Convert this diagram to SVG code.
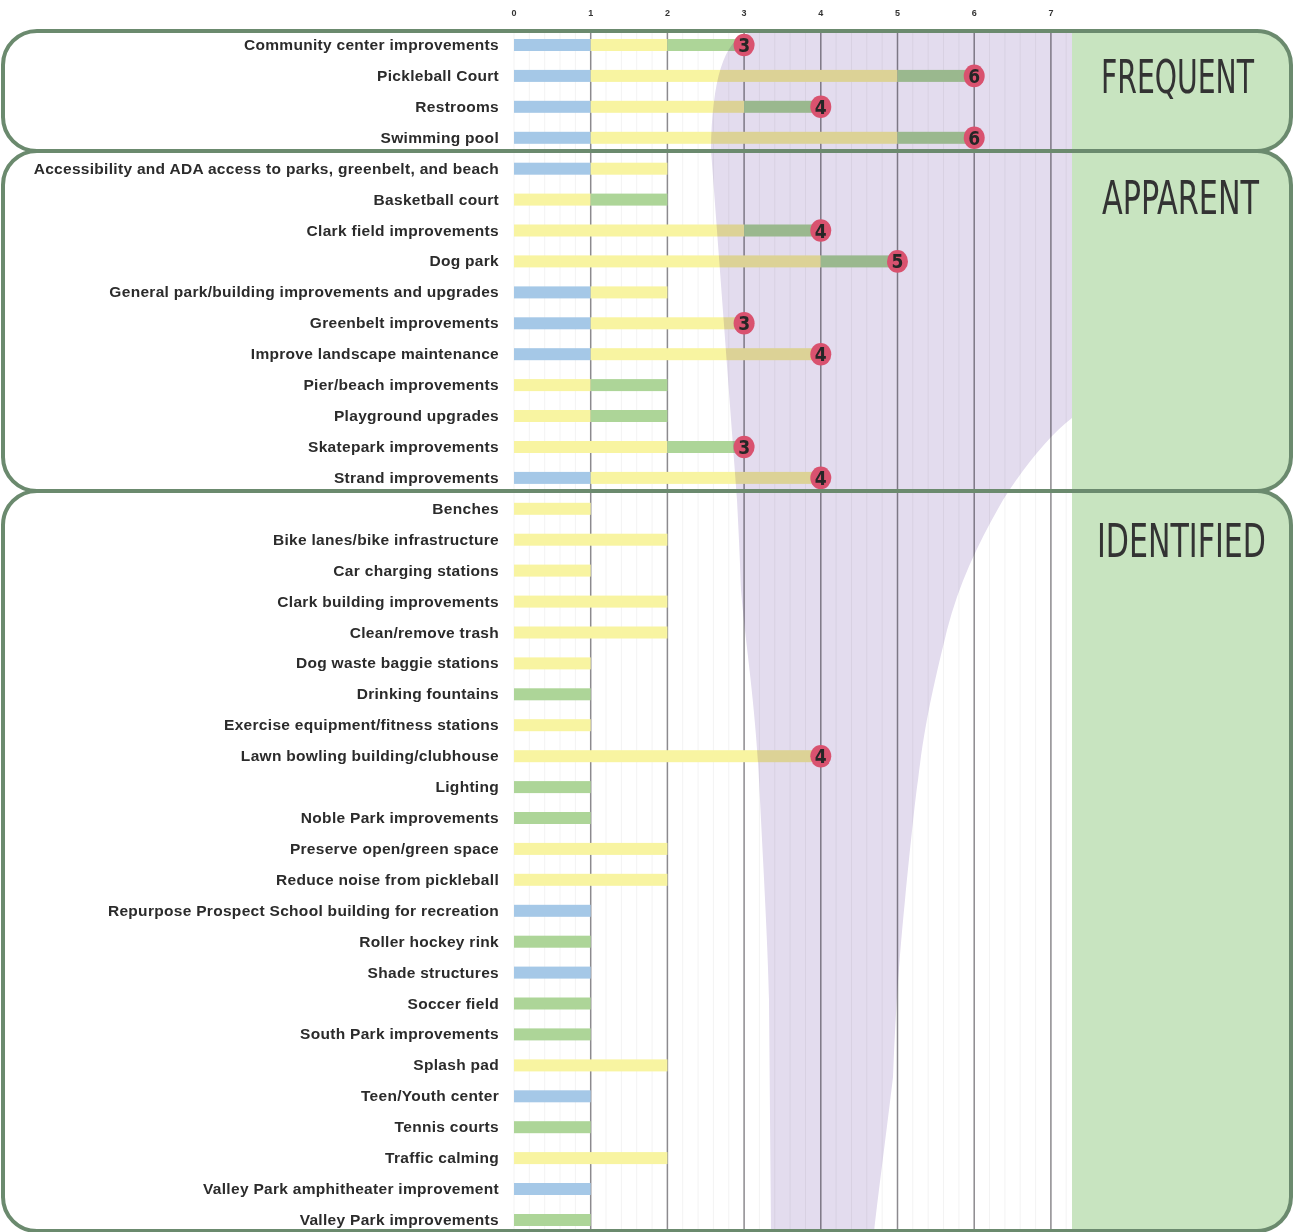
<svg xmlns="http://www.w3.org/2000/svg" width="1294" height="1232" viewBox="0 0 1294 1232">
<style>
.lbl{font-family:"Liberation Sans",Arial,sans-serif;font-weight:bold;font-size:15.5px;letter-spacing:0.3px;fill:#2b2b2b;text-anchor:end}
.tick{font-family:"Liberation Sans",Arial,sans-serif;font-weight:bold;font-size:9px;fill:#333;text-anchor:middle}
.cat{font-family:"DejaVu Sans Condensed","Liberation Sans Narrow","Liberation Sans",sans-serif;font-size:32px;fill:#333;text-anchor:middle}
.num{font-family:"Liberation Sans Narrow","DejaVu Sans Condensed","Liberation Sans",sans-serif;font-size:19px;font-weight:bold;fill:#262626;text-anchor:middle}
.b{fill:#a5c8e7}.y{fill:#f8f4a1}.g{fill:#add598}
.dot{fill:#d9526f}
.frame{fill:none;stroke:#6b8a6e;stroke-width:4}
.major{stroke:#8c8a8e;stroke-width:1.5}
.minor{stroke:#f3f3f3;stroke-width:1}
</style>
<defs>
<clipPath id="framesClip">
<rect x="3" y="31" width="1288" height="120" rx="34"/>
<rect x="3" y="151" width="1288" height="340" rx="34"/>
<rect x="3" y="491" width="1288" height="740" rx="34"/>
</clipPath>
</defs>
<rect width="1294" height="1232" fill="#fff"/>
<g id="green-panel"><rect x="1072" y="0" width="222" height="1232" fill="#c8e4c0" clip-path="url(#framesClip)"/></g>
<g id="grid">
<g class="minor">
<line x1="529.3" y1="33" x2="529.3" y2="1232"/><line x1="544.7" y1="33" x2="544.7" y2="1232"/><line x1="560" y1="33" x2="560" y2="1232"/><line x1="575.4" y1="33" x2="575.4" y2="1232"/>
<line x1="606" y1="33" x2="606" y2="1232"/><line x1="621.4" y1="33" x2="621.4" y2="1232"/><line x1="636.7" y1="33" x2="636.7" y2="1232"/><line x1="652.1" y1="33" x2="652.1" y2="1232"/>
<line x1="682.7" y1="33" x2="682.7" y2="1232"/><line x1="698.1" y1="33" x2="698.1" y2="1232"/><line x1="713.4" y1="33" x2="713.4" y2="1232"/><line x1="728.8" y1="33" x2="728.8" y2="1232"/>
<line x1="759.4" y1="33" x2="759.4" y2="1232"/><line x1="774.8" y1="33" x2="774.8" y2="1232"/><line x1="790.1" y1="33" x2="790.1" y2="1232"/><line x1="805.5" y1="33" x2="805.5" y2="1232"/>
<line x1="836.1" y1="33" x2="836.1" y2="1232"/><line x1="851.5" y1="33" x2="851.5" y2="1232"/><line x1="866.8" y1="33" x2="866.8" y2="1232"/><line x1="882.2" y1="33" x2="882.2" y2="1232"/>
<line x1="912.8" y1="33" x2="912.8" y2="1232"/><line x1="928.2" y1="33" x2="928.2" y2="1232"/><line x1="943.5" y1="33" x2="943.5" y2="1232"/><line x1="958.9" y1="33" x2="958.9" y2="1232"/>
<line x1="989.5" y1="33" x2="989.5" y2="1232"/><line x1="1004.9" y1="33" x2="1004.9" y2="1232"/><line x1="1020.2" y1="33" x2="1020.2" y2="1232"/><line x1="1035.6" y1="33" x2="1035.6" y2="1232"/>
<line x1="1066.2" y1="33" x2="1066.2" y2="1232"/><line x1="514" y1="33" x2="514" y2="1232"/>
</g>
<g class="major">
<line x1="590.7" y1="33" x2="590.7" y2="1232"/><line x1="667.4" y1="33" x2="667.4" y2="1232"/><line x1="744.1" y1="33" x2="744.1" y2="1232"/><line x1="820.8" y1="33" x2="820.8" y2="1232"/>
<line x1="897.5" y1="33" x2="897.5" y2="1232"/><line x1="974.2" y1="33" x2="974.2" y2="1232"/><line x1="1050.9" y1="33" x2="1050.9" y2="1232"/>
</g>
</g>
<g id="axis">
<text class="tick" x="514" y="16">0</text><text class="tick" x="590.7" y="16">1</text><text class="tick" x="667.4" y="16">2</text><text class="tick" x="744.1" y="16">3</text>
<text class="tick" x="820.8" y="16">4</text><text class="tick" x="897.5" y="16">5</text><text class="tick" x="974.2" y="16">6</text><text class="tick" x="1050.9" y="16">7</text>
</g>
<g id="bars">
<g id="r0"><text class="lbl" x="499" y="50">Community center improvements</text><rect class="b" x="514" y="39" width="76.7" height="12"/><rect class="y" x="590.7" y="39" width="76.7" height="12"/><rect class="g" x="667.4" y="39" width="76.7" height="12"/></g>
<g id="r1"><text class="lbl" x="499" y="80.9">Pickleball Court</text><rect class="b" x="514" y="69.9" width="76.7" height="12"/><rect class="y" x="590.7" y="69.9" width="306.8" height="12"/><rect class="g" x="897.5" y="69.9" width="76.7" height="12"/></g>
<g id="r2"><text class="lbl" x="499" y="111.8">Restrooms</text><rect class="b" x="514" y="100.8" width="76.7" height="12"/><rect class="y" x="590.7" y="100.8" width="153.4" height="12"/><rect class="g" x="744.1" y="100.8" width="76.7" height="12"/></g>
<g id="r3"><text class="lbl" x="499" y="142.8">Swimming pool</text><rect class="b" x="514" y="131.8" width="76.7" height="12"/><rect class="y" x="590.7" y="131.8" width="306.8" height="12"/><rect class="g" x="897.5" y="131.8" width="76.7" height="12"/></g>
<g id="r4"><text class="lbl" x="499" y="173.7">Accessibility and ADA access to parks, greenbelt, and beach</text><rect class="b" x="514" y="162.7" width="76.7" height="12"/><rect class="y" x="590.7" y="162.7" width="76.7" height="12"/></g>
<g id="r5"><text class="lbl" x="499" y="204.6">Basketball court</text><rect class="y" x="514" y="193.6" width="76.7" height="12"/><rect class="g" x="590.7" y="193.6" width="76.7" height="12"/></g>
<g id="r6"><text class="lbl" x="499" y="235.5">Clark field improvements</text><rect class="y" x="514" y="224.5" width="230.1" height="12"/><rect class="g" x="744.1" y="224.5" width="76.7" height="12"/></g>
<g id="r7"><text class="lbl" x="499" y="266.4">Dog park</text><rect class="y" x="514" y="255.4" width="306.8" height="12"/><rect class="g" x="820.8" y="255.4" width="76.7" height="12"/></g>
<g id="r8"><text class="lbl" x="499" y="297.4">General park/building improvements and upgrades</text><rect class="b" x="514" y="286.4" width="76.7" height="12"/><rect class="y" x="590.7" y="286.4" width="76.7" height="12"/></g>
<g id="r9"><text class="lbl" x="499" y="328.3">Greenbelt improvements</text><rect class="b" x="514" y="317.3" width="76.7" height="12"/><rect class="y" x="590.7" y="317.3" width="153.4" height="12"/></g>
<g id="r10"><text class="lbl" x="499" y="359.2">Improve landscape maintenance</text><rect class="b" x="514" y="348.2" width="76.7" height="12"/><rect class="y" x="590.7" y="348.2" width="230.1" height="12"/></g>
<g id="r11"><text class="lbl" x="499" y="390.1">Pier/beach improvements</text><rect class="y" x="514" y="379.1" width="76.7" height="12"/><rect class="g" x="590.7" y="379.1" width="76.7" height="12"/></g>
<g id="r12"><text class="lbl" x="499" y="421">Playground upgrades</text><rect class="y" x="514" y="410" width="76.7" height="12"/><rect class="g" x="590.7" y="410" width="76.7" height="12"/></g>
<g id="r13"><text class="lbl" x="499" y="452">Skatepark improvements</text><rect class="y" x="514" y="441" width="153.4" height="12"/><rect class="g" x="667.4" y="441" width="76.7" height="12"/></g>
<g id="r14"><text class="lbl" x="499" y="482.9">Strand improvements</text><rect class="b" x="514" y="471.9" width="76.7" height="12"/><rect class="y" x="590.7" y="471.9" width="230.1" height="12"/></g>
<g id="r15"><text class="lbl" x="499" y="513.8">Benches</text><rect class="y" x="514" y="502.8" width="76.7" height="12"/></g>
<g id="r16"><text class="lbl" x="499" y="544.7">Bike lanes/bike infrastructure</text><rect class="y" x="514" y="533.7" width="153.4" height="12"/></g>
<g id="r17"><text class="lbl" x="499" y="575.6">Car charging stations</text><rect class="y" x="514" y="564.6" width="76.7" height="12"/></g>
<g id="r18"><text class="lbl" x="499" y="606.6">Clark building improvements</text><rect class="y" x="514" y="595.6" width="153.4" height="12"/></g>
<g id="r19"><text class="lbl" x="499" y="637.5">Clean/remove trash</text><rect class="y" x="514" y="626.5" width="153.4" height="12"/></g>
<g id="r20"><text class="lbl" x="499" y="668.4">Dog waste baggie stations</text><rect class="y" x="514" y="657.4" width="76.7" height="12"/></g>
<g id="r21"><text class="lbl" x="499" y="699.3">Drinking fountains</text><rect class="g" x="514" y="688.3" width="76.7" height="12"/></g>
<g id="r22"><text class="lbl" x="499" y="730.2">Exercise equipment/fitness stations</text><rect class="y" x="514" y="719.2" width="76.7" height="12"/></g>
<g id="r23"><text class="lbl" x="499" y="761.2">Lawn bowling building/clubhouse</text><rect class="y" x="514" y="750.2" width="306.8" height="12"/></g>
<g id="r24"><text class="lbl" x="499" y="792.1">Lighting</text><rect class="g" x="514" y="781.1" width="76.7" height="12"/></g>
<g id="r25"><text class="lbl" x="499" y="823">Noble Park improvements</text><rect class="g" x="514" y="812" width="76.7" height="12"/></g>
<g id="r26"><text class="lbl" x="499" y="853.9">Preserve open/green space</text><rect class="y" x="514" y="842.9" width="153.4" height="12"/></g>
<g id="r27"><text class="lbl" x="499" y="884.8">Reduce noise from pickleball</text><rect class="y" x="514" y="873.8" width="153.4" height="12"/></g>
<g id="r28"><text class="lbl" x="499" y="915.8">Repurpose Prospect School building for recreation</text><rect class="b" x="514" y="904.8" width="76.7" height="12"/></g>
<g id="r29"><text class="lbl" x="499" y="946.7">Roller hockey rink</text><rect class="g" x="514" y="935.7" width="76.7" height="12"/></g>
<g id="r30"><text class="lbl" x="499" y="977.6">Shade structures</text><rect class="b" x="514" y="966.6" width="76.7" height="12"/></g>
<g id="r31"><text class="lbl" x="499" y="1008.5">Soccer field</text><rect class="g" x="514" y="997.5" width="76.7" height="12"/></g>
<g id="r32"><text class="lbl" x="499" y="1039.4">South Park improvements</text><rect class="g" x="514" y="1028.4" width="76.7" height="12"/></g>
<g id="r33"><text class="lbl" x="499" y="1070.4">Splash pad</text><rect class="y" x="514" y="1059.4" width="153.4" height="12"/></g>
<g id="r34"><text class="lbl" x="499" y="1101.3">Teen/Youth center</text><rect class="b" x="514" y="1090.3" width="76.7" height="12"/></g>
<g id="r35"><text class="lbl" x="499" y="1132.2">Tennis courts</text><rect class="g" x="514" y="1121.2" width="76.7" height="12"/></g>
<g id="r36"><text class="lbl" x="499" y="1163.1">Traffic calming</text><rect class="y" x="514" y="1152.1" width="153.4" height="12"/></g>
<g id="r37"><text class="lbl" x="499" y="1194">Valley Park amphitheater improvement</text><rect class="b" x="514" y="1183" width="76.7" height="12"/></g>
<g id="r38"><text class="lbl" x="499" y="1225">Valley Park improvements</text><rect class="g" x="514" y="1214" width="76.7" height="12"/></g>
</g>
<g id="purple-zone"><path d="M748 33 C724 40 712 80 711 150 L737 500 C739 540 740 560 741 590 C745 640 755 700 759 780 C763 860 768 950 769 1000 L771 1232 L874 1232 C880 1180 888 1120 893 1077 C896 1000 900 950 905 900 C910 850 915 800 918 780 C925 720 935 680 947 630 C960 580 980 540 1003 500 C1025 465 1050 435 1072 418 L1072 33 Z" fill="#e3dcee" style="mix-blend-mode:multiply"/></g>
<g id="markers">
<ellipse class="dot" cx="744.1" cy="45" rx="10.5" ry="11.3"/><text class="num" x="744.1" y="52">3</text>
<ellipse class="dot" cx="974.2" cy="75.9" rx="10.5" ry="11.3"/><text class="num" x="974.2" y="82.9">6</text>
<ellipse class="dot" cx="820.8" cy="106.8" rx="10.5" ry="11.3"/><text class="num" x="820.8" y="113.8">4</text>
<ellipse class="dot" cx="974.2" cy="137.8" rx="10.5" ry="11.3"/><text class="num" x="974.2" y="144.8">6</text>
<ellipse class="dot" cx="820.8" cy="230.5" rx="10.5" ry="11.3"/><text class="num" x="820.8" y="237.5">4</text>
<ellipse class="dot" cx="897.5" cy="261.4" rx="10.5" ry="11.3"/><text class="num" x="897.5" y="268.4">5</text>
<ellipse class="dot" cx="744.1" cy="323.3" rx="10.5" ry="11.3"/><text class="num" x="744.1" y="330.3">3</text>
<ellipse class="dot" cx="820.8" cy="354.2" rx="10.5" ry="11.3"/><text class="num" x="820.8" y="361.2">4</text>
<ellipse class="dot" cx="744.1" cy="447" rx="10.5" ry="11.3"/><text class="num" x="744.1" y="454">3</text>
<ellipse class="dot" cx="820.8" cy="477.9" rx="10.5" ry="11.3"/><text class="num" x="820.8" y="484.9">4</text>
<ellipse class="dot" cx="820.8" cy="756.2" rx="10.5" ry="11.3"/><text class="num" x="820.8" y="763.2">4</text>
</g>
<g id="frames">
<rect class="frame" x="3" y="31" width="1288" height="120" rx="34"/>
<rect class="frame" x="3" y="151" width="1288" height="340" rx="34"/>
<rect class="frame" x="3" y="491" width="1288" height="740" rx="34"/>
</g>
<g id="categories">
<text class="cat" transform="translate(1177.5 93) scale(1 1.42)" textLength="153" lengthAdjust="spacingAndGlyphs">FREQUENT</text>
<text class="cat" transform="translate(1180.5 214) scale(1 1.42)" textLength="157" lengthAdjust="spacingAndGlyphs">APPARENT</text>
<text class="cat" transform="translate(1181.5 557) scale(1 1.42)" textLength="169" lengthAdjust="spacingAndGlyphs">IDENTIFIED</text>
</g>
</svg>
